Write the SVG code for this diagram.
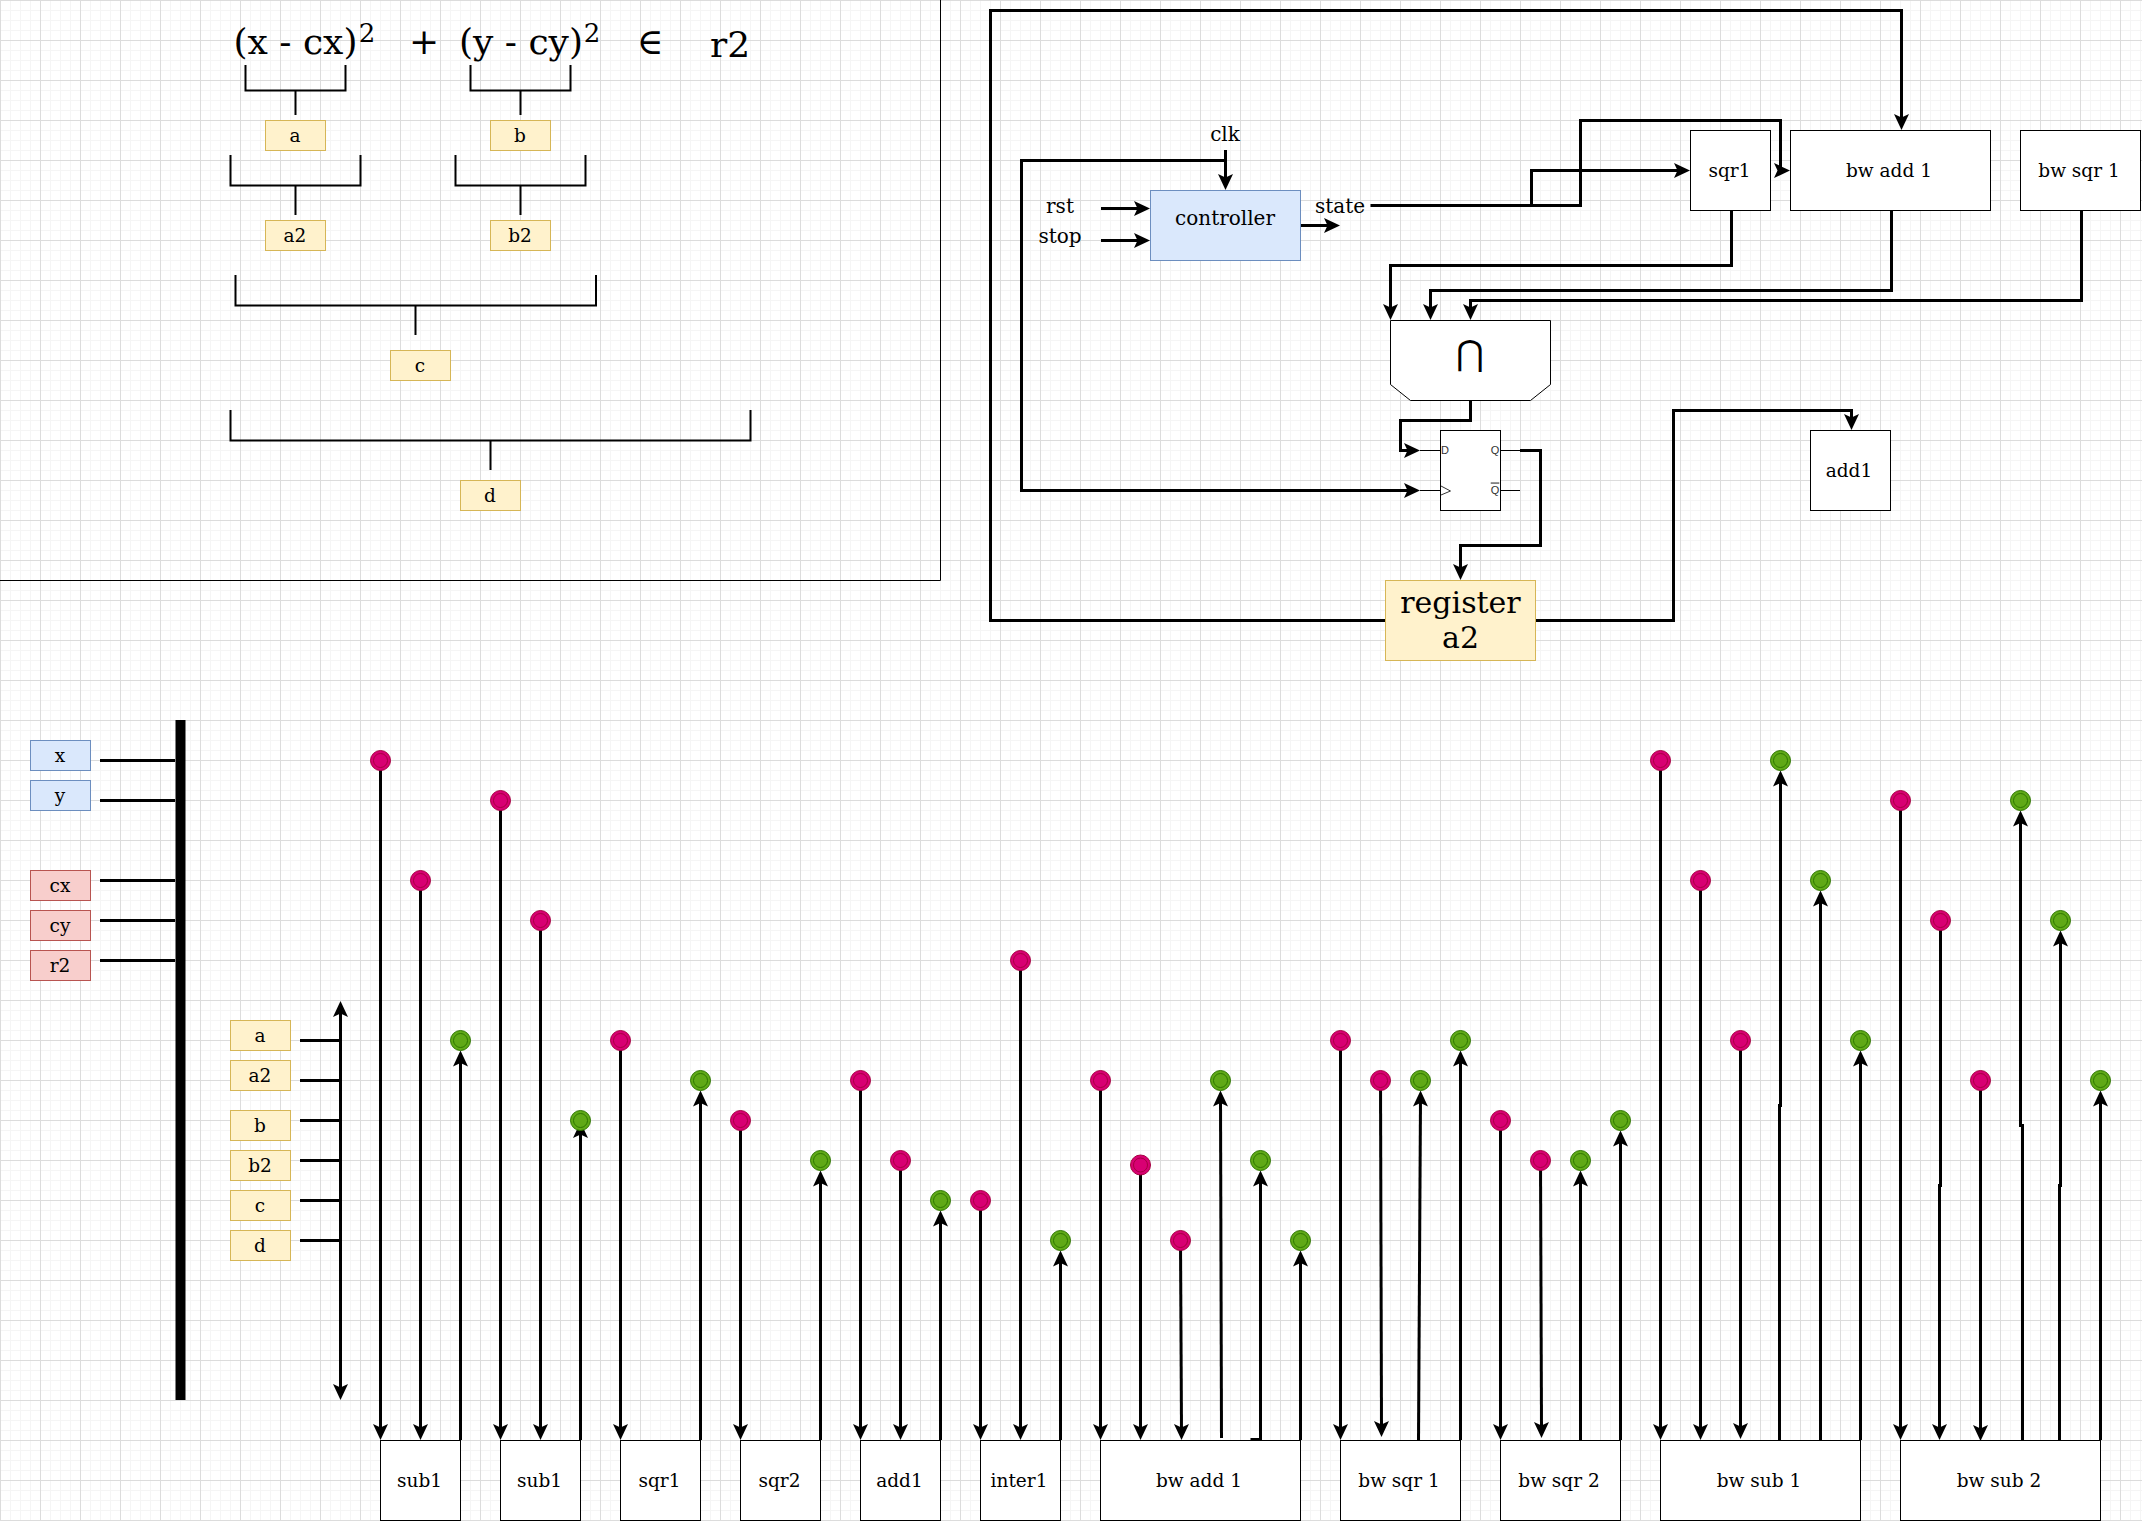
<svg xmlns="http://www.w3.org/2000/svg" width="2142" height="1521" viewBox="0 0 2142 1521">
<style>
text{font-family:"DejaVu Serif",serif;font-size:18.5px;fill:#000;text-anchor:middle}
.box{fill:#fff;stroke:#000;stroke-width:1}
.blue{fill:#dae8fc;stroke:#6c8ebf;stroke-width:1}
.red{fill:#f8cecc;stroke:#b85450;stroke-width:1}
.yel{fill:#fff2cc;stroke:#d6b656;stroke-width:1}
.pink circle{fill:#d80073;stroke:#a50040;stroke-width:1}
.green circle{fill:#60a917;stroke:#2d7600;stroke-width:1}
.w1{fill:none;stroke:#000;stroke-width:1}
.w2{fill:none;stroke:#000;stroke-width:2}
.w3{fill:none;stroke:#000;stroke-width:3}
.arr{marker-end:url(#ah)}
.big{font-size:36px}
.sup{font-size:26px}
.reg{font-size:30px}
.lab{font-size:20px}
.pin{font-family:"Liberation Sans",sans-serif;font-size:11px;fill:#333}
</style>
<defs>
<pattern id="grid" width="40" height="40" patternUnits="userSpaceOnUse">
<path d="M10.5 0V40M20.5 0V40M30.5 0V40M0 10.5H40M0 20.5H40M0 30.5H40" fill="none" stroke="#f5f5f5" stroke-width="1"/>
<path d="M0.5 0V40M0 0.5H40" fill="none" stroke="#dcdcdc" stroke-width="1"/>
</pattern>
<marker id="ah" markerUnits="userSpaceOnUse" markerWidth="17" markerHeight="17" refX="8" refY="8" orient="auto-start-reverse" overflow="visible">
<path d="M16 8L0 0.5L3.5 8L0 15.5Z" fill="#000"/>
</marker>
</defs>
<rect id="background" width="2142" height="1521" fill="#fff"/>
<rect id="gridlines" width="2142" height="1521" fill="url(#grid)"/>
<path id="frame" class="w1" d="M940.5 0V580.5H0"/>
<g id="connectors">
<g id="brackets" class="w2">
<path d="M245.5 65V90.5H345.5V65M295.5 90.5V115"/>
<path d="M470.5 65V90.5H570.5V65M520.5 90.5V115"/>
<path d="M230.5 155V185.5H360.5V155M295.5 185.5V215"/>
<path d="M455.5 155V185.5H585.5V155M520.5 185.5V215"/>
<path d="M235.5 275V305.5H596V275M415.5 305.5V335"/>
<path d="M230.5 410V440.5H750.5V410M490.5 440.5V470"/>
</g>
<g id="control-wires" class="w3">
<path class="arr" d="M1386 620.5H990.5V10.5H1901.5V122"/>
<path class="arr" d="M1536 620.5H1673.5V410.5H1851.5V422"/>
<path class="arr" d="M1225.5 150V182"/>
<path class="arr" d="M1225.5 160.5H1021.5V490.5H1412"/>
<path class="arr" d="M1101 208.5H1142"/>
<path class="arr" d="M1101 240.5H1142"/>
<path class="arr" d="M1300.5 225.5H1332"/>
<path class="arr" d="M1370.5 205.5H1580.5V120.5H1780.5V170.5H1782"/>
<path class="arr" d="M1531.5 205.5V170.5H1682"/>
<path class="arr" d="M1731.5 210V265.5H1390.5V312"/>
<path class="arr" d="M1891.5 210V290.5H1430.5V312"/>
<path class="arr" d="M2081.5 210V300.5H1470.5V312"/>
<path class="arr" d="M1470.5 400V420.5H1400.5V450.5H1412"/>
<path class="arr" d="M1520 450.5H1540.5V545.5H1460.5V572"/>
</g>
<g id="bus-stubs" class="w3">
<path d="M100 760.5H175M100 800.5H175M100 880.5H175M100 920.5H175M100 960.5H175"/>
<path d="M300 1040.5H340M300 1080.5H340M300 1120.5H340M300 1160.5H340M300 1200.5H340M300 1240.5H340"/>
<path class="arr" style="marker-start:url(#ah)" d="M340.5 1009V1392"/>
</g>
<g id="timing-wires" class="w3">
<path class="arr" d="M380.5 760.5V1432"/>
<path class="arr" d="M420.5 880.5V1432"/>
<path class="arr" d="M460.5 1440V1058.5"/>
<path class="arr" d="M500.5 800.5V1432"/>
<path class="arr" d="M540.5 920.5V1432"/>
<path class="arr" d="M580.5 1440V1130"/>
<path class="arr" d="M620.5 1040.5V1432"/>
<path class="arr" d="M700.5 1440V1098.5"/>
<path class="arr" d="M740.5 1120.5V1432"/>
<path class="arr" d="M820.5 1440V1178.5"/>
<path class="arr" d="M860.5 1080.5V1432"/>
<path class="arr" d="M900.5 1160.5V1432"/>
<path class="arr" d="M940.5 1440V1218.5"/>
<path class="arr" d="M980.5 1200.5V1432"/>
<path class="arr" d="M1020.5 960.5V1432"/>
<path class="arr" d="M1060.5 1440V1258.5"/>
<path class="arr" d="M1100.5 1080.5V1432"/>
<path class="arr" d="M1140.5 1165V1432"/>
<path class="arr" d="M1180.5 1240.5L1181.5 1432"/>
<path class="arr" d="M1221.5 1438L1220.5 1098.5"/>
<path class="arr" d="M1250.5 1439.5H1260.5V1178.5"/>
<path class="arr" d="M1300.5 1440V1258.5"/>
<path class="arr" d="M1340.5 1040.5V1432"/>
<path class="arr" d="M1380.5 1080.5L1381.5 1429"/>
<path class="arr" d="M1418.5 1440L1420.5 1098.5"/>
<path class="arr" d="M1460.5 1440V1058.5"/>
<path class="arr" d="M1500.5 1120.5V1432"/>
<path class="arr" d="M1540.5 1160.5L1541.5 1430"/>
<path class="arr" d="M1580.5 1440V1178.5"/>
<path class="arr" d="M1620.5 1440V1138.5"/>
<path class="arr" d="M1660.5 760.5V1432"/>
<path class="arr" d="M1700.5 880.5V1432"/>
<path class="arr" d="M1740.5 1040.5V1431"/>
<path class="arr" d="M1779.5 1440V1105.5H1780.5V778.5"/>
<path class="arr" d="M1820.5 1440V898.5"/>
<path class="arr" d="M1860.5 1440V1058.5"/>
<path class="arr" d="M1900.5 800.5V1432"/>
<path class="arr" d="M1940.5 920.5V1185.5H1939.5V1432"/>
<path class="arr" d="M1980.5 1080.5V1433"/>
<path class="arr" d="M2022.5 1440V1125.5H2020.5V818.5"/>
<path class="arr" d="M2059.5 1440V1185.5H2060.5V938.5"/>
<path class="arr" d="M2100.5 1440V1098.5"/>
</g>
</g>
<g id="formula">
<text class="big" x="295.5" y="54">(x - cx)</text><text class="sup" x="367" y="42">2</text>
<text class="big" x="424" y="54">+</text>
<text class="big" x="521" y="54">(y - cy)</text><text class="sup" x="592" y="42">2</text>
<text class="big" x="650" y="54">∈</text>
<text class="big" x="730" y="57">r2</text>
</g>
<g id="n-a"><rect class="yel" x="265.5" y="120.5" width="60" height="30"/><text x="295" y="142">a</text></g>
<g id="n-b"><rect class="yel" x="490.5" y="120.5" width="60" height="30"/><text x="520" y="142">b</text></g>
<g id="n-a2"><rect class="yel" x="265.5" y="220.5" width="60" height="30"/><text x="295" y="242">a2</text></g>
<g id="n-b2"><rect class="yel" x="490.5" y="220.5" width="60" height="30"/><text x="520" y="242">b2</text></g>
<g id="n-c"><rect class="yel" x="390.5" y="350.5" width="60" height="30"/><text x="420" y="372">c</text></g>
<g id="n-d"><rect class="yel" x="460.5" y="480.5" width="60" height="30"/><text x="490" y="502">d</text></g>
<g id="clk"><text class="lab" x="1225" y="141">clk</text></g>
<g id="rst"><text class="lab" x="1060" y="213">rst</text></g>
<g id="stop"><text class="lab" x="1060" y="243">stop</text></g>
<g id="state"><text class="lab" x="1340" y="213">state</text></g>
<g id="controller"><rect class="blue" x="1150.5" y="190.5" width="150" height="70"/><text class="lab" x="1225" y="225">controller</text></g>
<g id="t-sqr1"><rect class="box" x="1690.5" y="130.5" width="80" height="80"/><text x="1729.5" y="177">sqr1</text></g>
<g id="t-bwadd1"><rect class="box" x="1790.5" y="130.5" width="200" height="80"/><text x="1889" y="177">bw add 1</text></g>
<g id="t-bwsqr1"><rect class="box" x="2020.5" y="130.5" width="120" height="80"/><text x="2079" y="177">bw sqr 1</text></g>
<g id="t-add1"><rect class="box" x="1810.5" y="430.5" width="80" height="80"/><text x="1849" y="477">add1</text></g>
<g id="mux"><path class="box" d="M1390.5 320.5H1550.5V384.5L1530.5 400.5H1410.5L1390.5 384.5Z"/><text style="font-size:34px" x="1470" y="365">⋂</text></g>
<g id="flipflop">
<rect class="box" x="1440.5" y="430.5" width="60" height="80"/>
<path class="w1" d="M1420 450.5H1440M1420 490.5H1440M1500 450.5H1520M1500 490.5H1520"/>
<path d="M1441 486L1450.5 491L1441 495" fill="none" stroke="#333" stroke-width="1"/>
<text class="pin" x="1445" y="453.5">D</text>
<text class="pin" x="1495" y="453.5">Q</text>
<text class="pin" x="1495" y="493.5" text-decoration="overline">Q</text>
</g>
<g id="register"><rect class="yel" x="1385.5" y="580.5" width="150" height="80"/><text class="reg" x="1460.5" y="613">register</text><text class="reg" x="1460.5" y="648">a2</text></g>
<g id="bus"><rect x="175.5" y="720" width="10" height="680" fill="#000"/></g>
<g id="s-x"><rect class="blue" x="30.5" y="740.5" width="60" height="30"/><text x="60" y="762">x</text></g>
<g id="s-y"><rect class="blue" x="30.5" y="780.5" width="60" height="30"/><text x="60" y="802">y</text></g>
<g id="s-cx"><rect class="red" x="30.5" y="870.5" width="60" height="30"/><text x="60" y="892">cx</text></g>
<g id="s-cy"><rect class="red" x="30.5" y="910.5" width="60" height="30"/><text x="60" y="932">cy</text></g>
<g id="s-r2"><rect class="red" x="30.5" y="950.5" width="60" height="30"/><text x="60" y="972">r2</text></g>
<g id="r-a"><rect class="yel" x="230.5" y="1020.5" width="60" height="30"/><text x="260" y="1042">a</text></g>
<g id="r-a2"><rect class="yel" x="230.5" y="1060.5" width="60" height="30"/><text x="260" y="1082">a2</text></g>
<g id="r-b"><rect class="yel" x="230.5" y="1110.5" width="60" height="30"/><text x="260" y="1132">b</text></g>
<g id="r-b2"><rect class="yel" x="230.5" y="1150.5" width="60" height="30"/><text x="260" y="1172">b2</text></g>
<g id="r-c"><rect class="yel" x="230.5" y="1190.5" width="60" height="30"/><text x="260" y="1212">c</text></g>
<g id="r-d"><rect class="yel" x="230.5" y="1230.5" width="60" height="30"/><text x="260" y="1252">d</text></g>
<g id="b-sub1a"><rect class="box" x="380.5" y="1440.5" width="80" height="80"/><text x="419.5" y="1487">sub1</text></g>
<g id="b-sub1b"><rect class="box" x="500.5" y="1440.5" width="80" height="80"/><text x="539.5" y="1487">sub1</text></g>
<g id="b-sqr1"><rect class="box" x="620.5" y="1440.5" width="80" height="80"/><text x="659.5" y="1487">sqr1</text></g>
<g id="b-sqr2"><rect class="box" x="740.5" y="1440.5" width="80" height="80"/><text x="779.5" y="1487">sqr2</text></g>
<g id="b-add1"><rect class="box" x="860.5" y="1440.5" width="80" height="80"/><text x="899.5" y="1487">add1</text></g>
<g id="b-inter1"><rect class="box" x="980.5" y="1440.5" width="80" height="80"/><text x="1019" y="1487">inter1</text></g>
<g id="b-bwadd1"><rect class="box" x="1100.5" y="1440.5" width="200" height="80"/><text x="1199" y="1487">bw add 1</text></g>
<g id="b-bwsqr1"><rect class="box" x="1340.5" y="1440.5" width="120" height="80"/><text x="1399" y="1487">bw sqr 1</text></g>
<g id="b-bwsqr2"><rect class="box" x="1500.5" y="1440.5" width="120" height="80"/><text x="1559" y="1487">bw sqr 2</text></g>
<g id="b-bwsub1"><rect class="box" x="1660.5" y="1440.5" width="200" height="80"/><text x="1759" y="1487">bw sub 1</text></g>
<g id="b-bwsub2"><rect class="box" x="1900.5" y="1440.5" width="200" height="80"/><text x="1999" y="1487">bw sub 2</text></g>
<g id="p1" class="pink"><circle cx="380.5" cy="760.5" r="10"/><circle cx="380.5" cy="760.5" r="7"/></g>
<g id="p2" class="pink"><circle cx="420.5" cy="880.5" r="10"/><circle cx="420.5" cy="880.5" r="7"/></g>
<g id="p3" class="pink"><circle cx="500.5" cy="800.5" r="10"/><circle cx="500.5" cy="800.5" r="7"/></g>
<g id="p4" class="pink"><circle cx="540.5" cy="920.5" r="10"/><circle cx="540.5" cy="920.5" r="7"/></g>
<g id="p5" class="pink"><circle cx="620.5" cy="1040.5" r="10"/><circle cx="620.5" cy="1040.5" r="7"/></g>
<g id="p6" class="pink"><circle cx="740.5" cy="1120.5" r="10"/><circle cx="740.5" cy="1120.5" r="7"/></g>
<g id="p7" class="pink"><circle cx="860.5" cy="1080.5" r="10"/><circle cx="860.5" cy="1080.5" r="7"/></g>
<g id="p8" class="pink"><circle cx="900.5" cy="1160.5" r="10"/><circle cx="900.5" cy="1160.5" r="7"/></g>
<g id="p9" class="pink"><circle cx="980.5" cy="1200.5" r="10"/><circle cx="980.5" cy="1200.5" r="7"/></g>
<g id="p10" class="pink"><circle cx="1020.5" cy="960.5" r="10"/><circle cx="1020.5" cy="960.5" r="7"/></g>
<g id="p11" class="pink"><circle cx="1100.5" cy="1080.5" r="10"/><circle cx="1100.5" cy="1080.5" r="7"/></g>
<g id="p12" class="pink"><circle cx="1140.5" cy="1165" r="10"/><circle cx="1140.5" cy="1165" r="7"/></g>
<g id="p13" class="pink"><circle cx="1180.5" cy="1240.5" r="10"/><circle cx="1180.5" cy="1240.5" r="7"/></g>
<g id="p14" class="pink"><circle cx="1340.5" cy="1040.5" r="10"/><circle cx="1340.5" cy="1040.5" r="7"/></g>
<g id="p15" class="pink"><circle cx="1380.5" cy="1080.5" r="10"/><circle cx="1380.5" cy="1080.5" r="7"/></g>
<g id="p16" class="pink"><circle cx="1500.5" cy="1120.5" r="10"/><circle cx="1500.5" cy="1120.5" r="7"/></g>
<g id="p17" class="pink"><circle cx="1540.5" cy="1160.5" r="10"/><circle cx="1540.5" cy="1160.5" r="7"/></g>
<g id="p18" class="pink"><circle cx="1660.5" cy="760.5" r="10"/><circle cx="1660.5" cy="760.5" r="7"/></g>
<g id="p19" class="pink"><circle cx="1700.5" cy="880.5" r="10"/><circle cx="1700.5" cy="880.5" r="7"/></g>
<g id="p20" class="pink"><circle cx="1740.5" cy="1040.5" r="10"/><circle cx="1740.5" cy="1040.5" r="7"/></g>
<g id="p21" class="pink"><circle cx="1900.5" cy="800.5" r="10"/><circle cx="1900.5" cy="800.5" r="7"/></g>
<g id="p22" class="pink"><circle cx="1940.5" cy="920.5" r="10"/><circle cx="1940.5" cy="920.5" r="7"/></g>
<g id="p23" class="pink"><circle cx="1980.5" cy="1080.5" r="10"/><circle cx="1980.5" cy="1080.5" r="7"/></g>
<g id="g1" class="green"><circle cx="460.5" cy="1040.5" r="10"/><circle cx="460.5" cy="1040.5" r="7"/></g>
<g id="g2" class="green"><circle cx="580.5" cy="1120.5" r="10"/><circle cx="580.5" cy="1120.5" r="7"/></g>
<g id="g3" class="green"><circle cx="700.5" cy="1080.5" r="10"/><circle cx="700.5" cy="1080.5" r="7"/></g>
<g id="g4" class="green"><circle cx="820.5" cy="1160.5" r="10"/><circle cx="820.5" cy="1160.5" r="7"/></g>
<g id="g5" class="green"><circle cx="940.5" cy="1200.5" r="10"/><circle cx="940.5" cy="1200.5" r="7"/></g>
<g id="g6" class="green"><circle cx="1060.5" cy="1240.5" r="10"/><circle cx="1060.5" cy="1240.5" r="7"/></g>
<g id="g7" class="green"><circle cx="1220.5" cy="1080.5" r="10"/><circle cx="1220.5" cy="1080.5" r="7"/></g>
<g id="g8" class="green"><circle cx="1260.5" cy="1160.5" r="10"/><circle cx="1260.5" cy="1160.5" r="7"/></g>
<g id="g9" class="green"><circle cx="1300.5" cy="1240.5" r="10"/><circle cx="1300.5" cy="1240.5" r="7"/></g>
<g id="g10" class="green"><circle cx="1420.5" cy="1080.5" r="10"/><circle cx="1420.5" cy="1080.5" r="7"/></g>
<g id="g11" class="green"><circle cx="1460.5" cy="1040.5" r="10"/><circle cx="1460.5" cy="1040.5" r="7"/></g>
<g id="g12" class="green"><circle cx="1580.5" cy="1160.5" r="10"/><circle cx="1580.5" cy="1160.5" r="7"/></g>
<g id="g13" class="green"><circle cx="1620.5" cy="1120.5" r="10"/><circle cx="1620.5" cy="1120.5" r="7"/></g>
<g id="g14" class="green"><circle cx="1780.5" cy="760.5" r="10"/><circle cx="1780.5" cy="760.5" r="7"/></g>
<g id="g15" class="green"><circle cx="1820.5" cy="880.5" r="10"/><circle cx="1820.5" cy="880.5" r="7"/></g>
<g id="g16" class="green"><circle cx="1860.5" cy="1040.5" r="10"/><circle cx="1860.5" cy="1040.5" r="7"/></g>
<g id="g17" class="green"><circle cx="2020.5" cy="800.5" r="10"/><circle cx="2020.5" cy="800.5" r="7"/></g>
<g id="g18" class="green"><circle cx="2060.5" cy="920.5" r="10"/><circle cx="2060.5" cy="920.5" r="7"/></g>
<g id="g19" class="green"><circle cx="2100.5" cy="1080.5" r="10"/><circle cx="2100.5" cy="1080.5" r="7"/></g>
</svg>
